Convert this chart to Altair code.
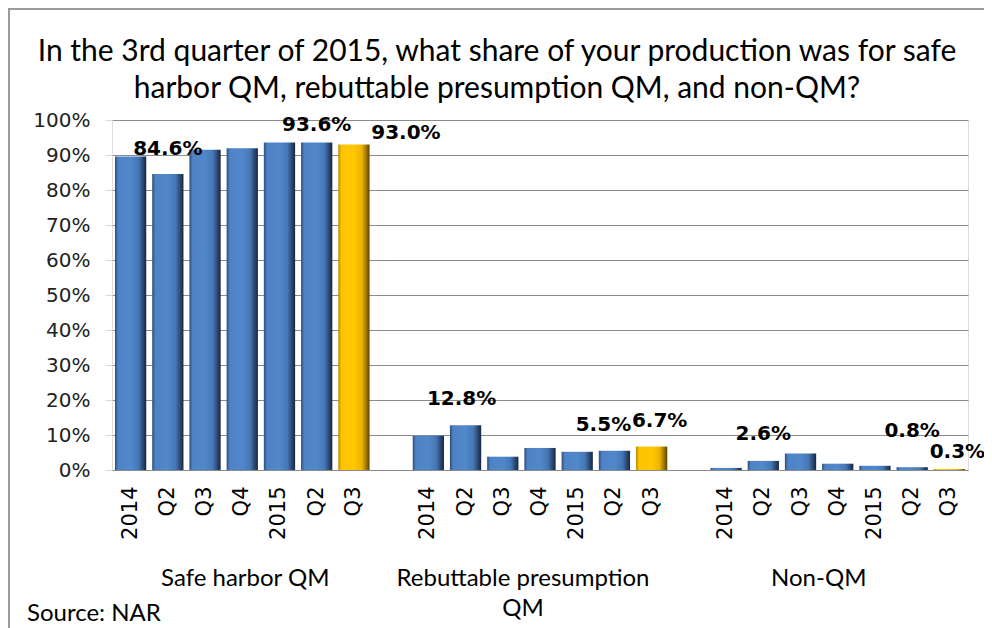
import altair as alt
import pandas as pd

# ---- data ----
groups = ["Safe harbor QM", "Rebuttable presumption QM", "Non-QM"]
group_codes = ["SH", "RB", "NQ"]
periods = ["2014", "Q2", "Q3", "Q4", "2015", "Q2", "Q3"]
safe_harbor = [89.6, 84.6, 91.5, 91.9, 93.6, 93.6, 93.0]
rebuttable = [9.8, 12.8, 3.8, 6.3, 5.2, 5.5, 6.7]
non_qm = [0.6, 2.6, 4.7, 1.8, 1.2, 0.8, 0.3]
highlight = [False, False, False, False, False, False, True]
y_ticks = [0, 10, 20, 30, 40, 50, 60, 70, 80, 90, 100]
# which points carry a data label (group code, period index)
labelled = [("SH", 1), ("SH", 5), ("SH", 6), ("RB", 1), ("RB", 5), ("RB", 6),
            ("NQ", 1), ("NQ", 5), ("NQ", 6)]
title_lines = ["In the 3rd quarter of 2015, what share of your production was for safe",
               "harbor QM, rebuttable presumption QM, and non-QM?"]

series = {"SH": safe_harbor, "RB": rebuttable, "NQ": non_qm}

# ---- build table ----
domain = []
rows = []
for gi, code in enumerate(group_codes):
    for pi, per in enumerate(periods):
        key = f"{code}|{pi}|{per}"
        domain.append(key)
        rows.append({"key": key, "group": code, "idx": pi, "period": per,
                     "value": series[code][pi], "gold": highlight[pi]})
    if gi < len(group_codes) - 1:
        domain.append(f"gap{gi}")
df = pd.DataFrame(rows)

W, H = 856, 350
L, T, R, B = 104, 112, 16, 158

xscale = alt.Scale(domain=domain, paddingInner=0.16, paddingOuter=0.08)
yscale = alt.Scale(domain=[0, 100], nice=False)

x_axis = alt.Axis(labelExpr="indexof(datum.value,'|')>=0 ? split(datum.value,'|')[2] : ''",
                  labelAngle=270, labelAlign="right", labelBaseline="middle",
                  labelFont="DejaVu Sans", labelFontSize=21, labelColor="#000000",
                  labelPadding=16, ticks=False, domain=False, grid=False,
                  labelOverlap=False, title=None)
y_axis = alt.Axis(values=y_ticks,
                  labelExpr="datum.value + '%'", labelOverlap=False,
                  labelFont="DejaVu Sans", labelFontSize=20, labelColor="#222222",
                  labelPadding=15, tickSize=7, tickColor="#d9d9d9",
                  domain=False, grid=True, gridColor="#8c8c8c", gridWidth=1, title=None)

def xe():
    return alt.X("key:N", sort=domain, scale=xscale, axis=x_axis)

def ye():
    return alt.Y("value:Q", scale=yscale, axis=y_axis)

blue_grad = alt.Gradient(gradient="linear", x1=0, x2=1, y1=0, y2=0, stops=[
    alt.GradientStop(color="#2c4d7c", offset=0),
    alt.GradientStop(color="#4f82c4", offset=0.1),
    alt.GradientStop(color="#5088cc", offset=0.5),
    alt.GradientStop(color="#4677b6", offset=0.75),
    alt.GradientStop(color="#2a4670", offset=0.9),
    alt.GradientStop(color="#16263d", offset=1)])
gold_grad = alt.Gradient(gradient="linear", x1=0, x2=1, y1=0, y2=0, stops=[
    alt.GradientStop(color="#b88a00", offset=0),
    alt.GradientStop(color="#ffc400", offset=0.1),
    alt.GradientStop(color="#ffc800", offset=0.5),
    alt.GradientStop(color="#f0b400", offset=0.75),
    alt.GradientStop(color="#9c7400", offset=0.9),
    alt.GradientStop(color="#5a4300", offset=1)])

base = alt.Chart(df)

blue_bars = base.transform_filter("!datum.gold").mark_bar(
    fill=blue_grad, cornerRadius=0).encode(x=xe(), y=ye())
gold_bars = base.transform_filter("datum.gold").mark_bar(
    fill=gold_grad).encode(x=xe(), y=ye())

# label offsets (dx, dy) in pixels, per labelled point
offsets = {("SH", 1): (0, -19), ("SH", 5): (0, -11), ("SH", 6): (52, -6),
           ("RB", 1): (-4, -20), ("RB", 5): (-11, -20), ("RB", 6): (8, -20),
           ("NQ", 1): (0, -21), ("NQ", 5): (0, -30), ("NQ", 6): (8, -11)}

label_layers = []
for code, pi in labelled:
    dx, dy = offsets[(code, pi)]
    lay = base.transform_filter(
        f"datum.group == '{code}' && datum.idx == {pi}"
    ).transform_calculate(
        lbl="format(datum.value, '.1f') + '%'"
    ).mark_text(font="DejaVu Sans", fontSize=20, fontWeight="bold", color="#000000",
                align="center", baseline="alphabetic", dx=dx, dy=dy).encode(
        x=xe(), y=ye(), text="lbl:N")
    label_layers.append(lay)

# group (category) labels
grp_df = pd.DataFrame({
    "key": [domain[3], domain[11], domain[19]],
    "name": [["Safe harbor QM"], ["Rebuttable presumption", "QM"], ["Non-QM"]],
    "dx": [3, -17, -19],
})
grp_layers = []
for i in range(3):
    g = alt.Chart(grp_df.iloc[[i]]).mark_text(
        font="Lato", fontSize=24, color="#000000", align="center",
        baseline="alphabetic", lineHeight=30, dx=int(grp_df["dx"][i])).encode(
        x=xe(), y=alt.value(H + 116), text="name")
    grp_layers.append(g)

source = alt.Chart(pd.DataFrame({"t": ["Source: NAR"]})).mark_text(
    font="Lato", fontSize=24, color="#000000", align="left", baseline="alphabetic").encode(
    x=alt.value(-85), y=alt.value(H + 151), text="t:N")

title = alt.Chart(pd.DataFrame({"t": [title_lines]})).mark_text(
    font="Lato", fontSize=30, color="#000000", align="center", baseline="alphabetic",
    lineHeight=37).encode(x=alt.value(W / 2 - 43), y=alt.value(-59), text="t")

frame_left = alt.Chart(pd.DataFrame({"a": [0]})).mark_rule(color="#9a9a9a", strokeWidth=2).encode(
    x=alt.value(-103), y=alt.value(-112), y2=alt.value(H + B))
frame_top = alt.Chart(pd.DataFrame({"a": [0]})).mark_rule(color="#9a9a9a", strokeWidth=2).encode(
    y=alt.value(-111), x=alt.value(-104), x2=alt.value(W + R))

chart = alt.layer(blue_bars, gold_bars, *label_layers, *grp_layers, source, title,
                  frame_left, frame_top).properties(
    width=W, height=H,
    autosize=alt.AutoSizeParams(type="none"),
    padding={"left": L, "top": T, "right": R, "bottom": B},
).configure_view(fill="#f2f2f2", stroke=None).configure(background="#ffffff")

chart.save("out.html", embed_options={"renderer": "svg", "actions": False})
